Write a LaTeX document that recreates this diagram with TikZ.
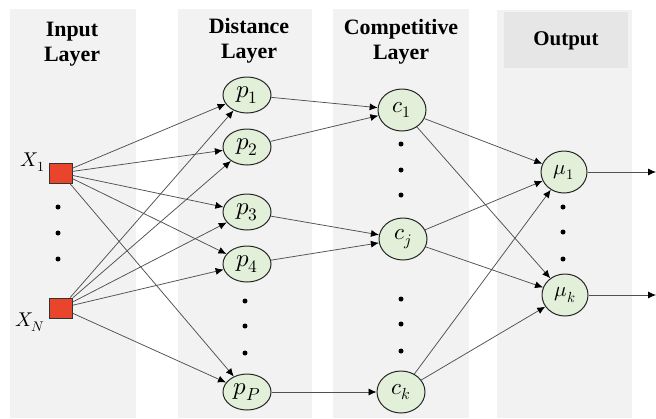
\documentclass[tikz,border=0pt]{standalone}
\usepackage{fontspec}
\usepackage{unicode-math}
\setmainfont{Liberation Serif}
\setmathfont{Latin Modern Math}
\usetikzlibrary{arrows.meta,shapes.geometric}
\definecolor{panelgray}{HTML}{F2F2F2}
\definecolor{headgray}{HTML}{E6E6E6}
\definecolor{inred}{HTML}{E8452C}
\definecolor{nodegreen}{HTML}{E2EFD9}
\definecolor{edgegray}{HTML}{505050}
\begin{document}
\begin{tikzpicture}[x=1bp,y=-1bp,
  panel/.style={fill=panelgray,draw=none},
  header/.style={font=\bfseries\fontsize{22}{25}\selectfont,align=center,inner sep=0pt},
  inbox/.style={draw=black!80,line width=0.8bp,fill=inred,minimum width=23bp,minimum height=20bp,inner sep=0pt},
  neuron/.style={ellipse,draw=black!85,line width=1bp,fill=nodegreen,inner sep=0pt},
  pnode/.style={neuron,minimum width=48bp,minimum height=36bp,font=\fontsize{25}{25}\selectfont},
  cnode/.style={neuron,minimum width=48bp,minimum height=42bp,font=\fontsize{23}{23}\selectfont},
  mnode/.style={neuron,minimum width=46bp,minimum height=42bp,font=\fontsize{21}{21}\selectfont},
  vdot/.style={circle,fill=black,inner sep=0pt,minimum size=5bp},
  conn/.style={draw=edgegray,line width=0.75bp},
  arr/.style={conn,-{Latex[length=8bp,width=7bp,color=black]}},
  lab/.style={font=\fontsize{20}{20}\selectfont,inner sep=0pt}
]
\useasboundingbox (0,0) rectangle (656,418);
\fill[white] (0,0) rectangle (656,418);
% panels
\path[panel] (10,9) rectangle (136,418);
\path[panel] (178,9) rectangle (312,418);
\path[panel] (333,9) rectangle (469,418);
\path[panel] (497,10) rectangle (632,418);
\path[fill=headgray] (504,12) rectangle (628,68);
% headers
\node[header] (hin) at (72,44) {Input\\Layer};
\node[header] (hdist) at (249,41) {Distance\\Layer};
\node[header] (hcomp) at (401,42) {Competitive\\Layer};
\node[header,font=\bfseries\fontsize{21}{25}\selectfont] (hout) at (566,41) {Output};
% input nodes
\node[inbox] (x1) at (61,173) {};
\node[inbox] (xn) at (61,308) {};
\node[lab,anchor=east] (lx1) at (45,162) {$X_1$};
\node[lab,anchor=east] (lxn) at (45,322) {$X_N$};
\node[vdot] (di1) at (58,207) {};
\node[vdot] (di2) at (58,233) {};
\node[vdot] (di3) at (58,259) {};
% distance layer
\node[pnode] (p1) at (247,95) {$p_1$};
\node[pnode] (p2) at (247,147) {$p_2$};
\node[pnode] (p3) at (247,212) {$p_3$};
\node[pnode] (p4) at (247,264) {$p_4$};
\node[pnode] (pp) at (247,392) {$p_P$};
\node[vdot] (dp1) at (245,301) {};
\node[vdot] (dp2) at (245,326) {};
\node[vdot] (dp3) at (245,353) {};
% competitive layer
\node[cnode] (c1) at (402,110) {$c_1$};
\node[cnode] (cj) at (403,239) {$c_j$};
\node[cnode] (ck) at (401,392) {$c_k$};
\node[vdot] (dc1) at (401,144) {};
\node[vdot] (dc2) at (401,170) {};
\node[vdot] (dc3) at (401,195) {};
\node[vdot] (dc4) at (401,299) {};
\node[vdot] (dc5) at (401,324) {};
\node[vdot] (dc6) at (401,351) {};
% output layer
\node[mnode] (m1) at (564,172) {$\mu_1$};
\node[mnode] (mk) at (565,295) {$\mu_k$};
\node[vdot] (dm1) at (563,207) {};
\node[vdot] (dm2) at (563,232) {};
\node[vdot] (dm3) at (563,259) {};
\coordinate (o1) at (656,172);
\coordinate (ok) at (656,295);
% connections
\foreach \s in {x1,xn}{
  \foreach \t in {p1,p2,p3,p4,pp}{
    \draw[arr] (\s) -- (\t);
  }
}
\draw[arr] (p1) -- (c1);
\draw[arr] (p2) -- (c1);
\draw[arr] (p3) -- (cj);
\draw[arr] (p4) -- (cj);
\draw[arr] (pp) -- (ck);
\foreach \s in {c1,cj,ck}{
  \foreach \t in {m1,mk}{
    \draw[arr] (\s) -- (\t);
  }
}
\draw[arr] (m1) -- (o1);
\draw[arr] (mk) -- (ok);
\end{tikzpicture}
\end{document}
